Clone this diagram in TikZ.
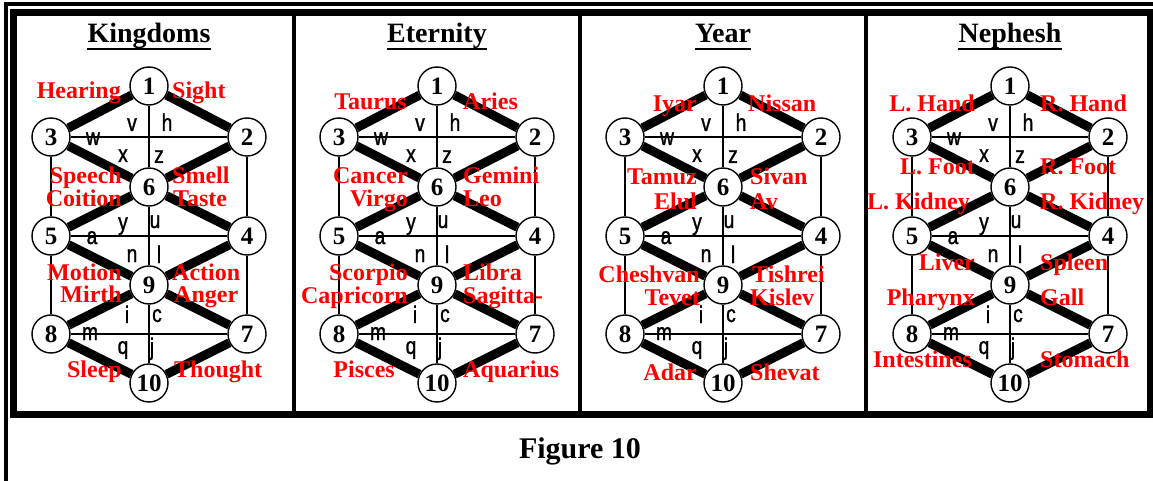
\documentclass[tikz,border=0pt]{standalone}
\usepackage{fontspec}
\setmainfont{Liberation Serif}
\newfontfamily\narrowsans[FakeStretch=0.8,FakeBold=1.2]{Liberation Sans}

\begin{document}
\begin{tikzpicture}[
    x=1pt,y=-1pt,
    sefira/.style={
        circle,draw,fill=white,line width=1.4pt,
        minimum size=38pt,inner sep=0pt,
        font=\bfseries\fontsize{25}{25}\selectfont
    },
    thinpath/.style={line width=1.8pt},
    thickpath/.style={line width=9pt},
    letter/.style={anchor=base,inner sep=0pt,font=\narrowsans\fontsize{24}{24}\selectfont},
    attrib/.style={inner sep=0pt,text=red,font=\bfseries\fontsize{24}{24}\selectfont},
    heading/.style={anchor=base,inner sep=0pt,font=\bfseries\fontsize{28}{28}\selectfont}
    ]

    \useasboundingbox (0,0) rectangle (1153,481);

    % frames
    \draw[line width=4pt] (6,481) -- (6,4.5) -- (1153,4.5);
    \draw[line width=7pt] (13.5,12.5) rectangle (1150,414.5);
    \foreach \x in {294,580,866}
        \draw[line width=3.5pt] (\x,16) -- (\x,411);

    % the four trees
    \foreach \p/\dx/\t in {king/0/Kingdoms,eter/288/Eternity,year/574/Year,neph/861/Nephesh}{
        \begin{scope}[shift={(\dx,0)}]
            \node[heading] (\p-title) at (149,43) {\t};
            \draw[line width=2.5pt]
                ([yshift=-6pt]\p-title.base west) -- ([yshift=-6pt]\p-title.base east);

            \node[sefira] (\p-1) at (149,86) {1};
            \node[sefira] (\p-2) at (247,137) {2};
            \node[sefira] (\p-3) at (51,137) {3};
            \node[sefira] (\p-6) at (149,187) {6};
            \node[sefira] (\p-4) at (247,236) {4};
            \node[sefira] (\p-5) at (51,236) {5};
            \node[sefira] (\p-9) at (149,285) {9};
            \node[sefira] (\p-7) at (247,334) {7};
            \node[sefira] (\p-8) at (51,334) {8};
            \node[sefira] (\p-10) at (149,383) {10};

            \draw[thinpath] (\p-1) -- (\p-6) (\p-6) -- (\p-9) (\p-9) -- (\p-10);
            \draw[thinpath] (\p-3) -- (\p-2) (\p-5) -- (\p-4) (\p-8) -- (\p-7);
            \draw[thinpath] (\p-3) -- (\p-5) (\p-5) -- (\p-8);
            \draw[thinpath] (\p-2) -- (\p-4) (\p-4) -- (\p-7);

            \draw[thickpath] (\p-1) -- (\p-3) (\p-1) -- (\p-2);
            \draw[thickpath] (\p-3) -- (\p-6) (\p-2) -- (\p-6);
            \draw[thickpath] (\p-6) -- (\p-5) (\p-6) -- (\p-4);
            \draw[thickpath] (\p-5) -- (\p-9) (\p-4) -- (\p-9);
            \draw[thickpath] (\p-9) -- (\p-8) (\p-9) -- (\p-7);
            \draw[thickpath] (\p-8) -- (\p-10) (\p-7) -- (\p-10);

            \foreach \ltr/\lx/\ly in {v/132/131,h/167/131,w/93/145,x/123/162,z/159/163,
                y/123/230,u/155/228,a/92/244,n/132/262,l/159/263,
                i/127/323,c/157/322,m/90/340,q/123/354,j/152/355}
                \node[letter] (\p-\ltr) at (\lx,\ly) {\ltr};
        \end{scope}
    }

    % Kingdoms
    \node[attrib,anchor=base east] (hearing) at (121,99) {Hearing};
    \node[attrib,anchor=base west] (sight) at (172,99) {Sight};
    \node[attrib,anchor=base east] (speech) at (122,183) {Speech};
    \node[attrib,anchor=base east] (coition) at (122,207) {Coition};
    \node[attrib,anchor=base west] (smell) at (172,183) {Smell};
    \node[attrib,anchor=base west] (taste) at (173,207) {Taste};
    \node[attrib,anchor=base east] (motion) at (122,280) {Motion};
    \node[attrib,anchor=base east] (mirth) at (122,302) {Mirth};
    \node[attrib,anchor=base west] (action) at (172,280) {Action};
    \node[attrib,anchor=base west] (anger) at (174,302) {Anger};
    \node[attrib,anchor=base east] (sleep) at (122,377) {Sleep};
    \node[attrib,anchor=base west] (thought) at (174,377) {Thought};

    % Eternity
    \node[attrib,anchor=base east] (taurus) at (407,110) {Taurus};
    \node[attrib,anchor=base west] (aries) at (463,110) {Aries};
    \node[attrib,anchor=base east] (cancer) at (408,183) {Cancer};
    \node[attrib,anchor=base east] (virgo) at (408,207) {Virgo};
    \node[attrib,anchor=base west] (gemini) at (463,183) {Gemini};
    \node[attrib,anchor=base west] (leo) at (463,207) {Leo};
    \node[attrib,anchor=base east] (scorpio) at (408,280) {Scorpio};
    \node[attrib,anchor=base east] (capricorn) at (408,303) {Capricorn};
    \node[attrib,anchor=base west] (libra) at (463,280) {Libra};
    \node[attrib,anchor=base west] (sagittarius) at (463,303) {Sagitta-};
    \node[attrib,anchor=base east] (pisces) at (395,377) {Pisces};
    \node[attrib,anchor=base west] (aquarius) at (463,377) {Aquarius};

    % Year
    \node[attrib,anchor=base east] (iyar) at (697,112) {Iyar};
    \node[attrib,anchor=base west] (nissan) at (748,112) {Nissan};
    \node[attrib,anchor=base east] (tamuz) at (697,185) {Tamuz};
    \node[attrib,anchor=base east] (elul) at (697,210) {Elul};
    \node[attrib,anchor=base west] (sivan) at (750,185) {Sivan};
    \node[attrib,anchor=base west] (av) at (750,210) {Av};
    \node[attrib,anchor=base east] (cheshvan) at (700,282) {Cheshvan};
    \node[attrib,anchor=base east] (tevet) at (700,305) {Tevet};
    \node[attrib,anchor=base west] (tishrei) at (752,282) {Tishrei};
    \node[attrib,anchor=base west] (kislev) at (750,305) {Kislev};
    \node[attrib,anchor=base east] (adar) at (697,380) {Adar};
    \node[attrib,anchor=base west] (shevat) at (750,380) {Shevat};

    % Nephesh
    \node[attrib,anchor=base east] (lhand) at (975,112) {L. Hand};
    \node[attrib,anchor=base west] (rhand) at (1040,112) {R. Hand};
    \node[attrib,anchor=base east] (lfoot) at (975,175) {L. Foot};
    \node[attrib,anchor=base west] (rfoot) at (1040,175) {R. Foot};
    \node[attrib,anchor=base east] (lkidney) at (970,210) {L. Kidney};
    \node[attrib,anchor=base west] (rkidney) at (1040,210) {R. Kidney};
    \node[attrib,anchor=base east] (liver) at (975,270) {Liver};
    \node[attrib,anchor=base west] (spleen) at (1040,270) {Spleen};
    \node[attrib,anchor=base east] (pharynx) at (975,305) {Pharynx};
    \node[attrib,anchor=base west] (gall) at (1040,305) {Gall};
    \node[attrib,anchor=base east] (intestines) at (972,367) {Intestines};
    \node[attrib,anchor=base west] (stomach) at (1040,367) {Stomach};

    \node[anchor=base,inner sep=0pt,font=\bfseries\fontsize{30}{30}\selectfont]
        (caption) at (580,458) {Figure 10};
\end{tikzpicture}
\end{document}
